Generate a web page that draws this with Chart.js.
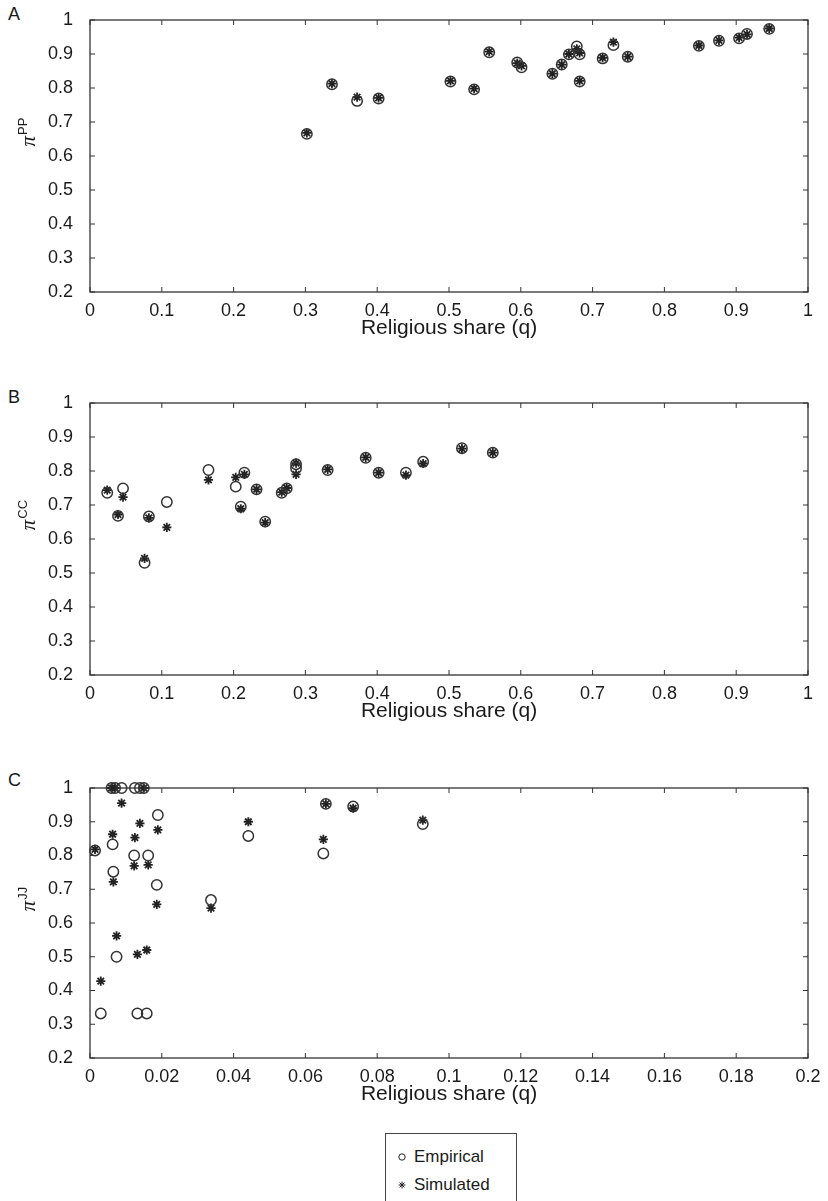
<!DOCTYPE html>
<html>
<head>
<meta charset="utf-8">
<script src="https://cdn.jsdelivr.net/npm/chart.js@4.4.1/dist/chart.umd.min.js"></script>
<style>
  body { margin: 0; background: #fff; font-family: "Liberation Sans", Arial, sans-serif; color: #1a1a1a; }
  #page { position: relative; width: 828px; height: 1201px; overflow: hidden; }
  canvas { position: absolute; left: 0; }
  .letter { position: absolute; left: 8px; font-size: 18px; }
  #legend { position: absolute; left: 385px; top: 1133px; width: 132px; height: 70px; border: 1.5px solid #444; box-sizing: border-box; }
  .item { position: absolute; left: 10px; height: 24px; font-size: 17px; line-height: 24px; }
  .item canvas { position: absolute; left: 0; top: 6px; }
  .item span { position: absolute; left: 18px; white-space: nowrap; }
</style>
</head>
<body>
<div id="page">
  <div class="letter" style="top:4px">A</div>
  <div class="letter" style="top:387px">B</div>
  <div class="letter" style="top:770px">C</div>
  <canvas id="chartA" width="828" height="345" style="top:0px"></canvas>
  <canvas id="chartB" width="828" height="345" style="top:383px"></canvas>
  <canvas id="chartC" width="828" height="343" style="top:768px"></canvas>
  <div id="legend">
    <div class="item" style="top:11px"><canvas id="mkEmp" width="12" height="12"></canvas><span>Empirical</span></div>
    <div class="item" style="top:39px"><canvas id="mkSim" width="12" height="12"></canvas><span>Simulated</span></div>
  </div>
</div>
<script>
// 軸の目盛り
const yTicks = [0.2, 0.3, 0.4, 0.5, 0.6, 0.7, 0.8, 0.9, 1];
const xTicksAB = [0, 0.1, 0.2, 0.3, 0.4, 0.5, 0.6, 0.7, 0.8, 0.9, 1];
const xTicksC = [0, 0.02, 0.04, 0.06, 0.08, 0.1, 0.12, 0.14, 0.16, 0.18, 0.2];
const xTitle = 'Religious share (q)';
const seriesNames = ['Empirical', 'Simulated'];

// パネルA (PP)
const qA   = [0.302, 0.337, 0.372, 0.402, 0.502, 0.535, 0.556, 0.595, 0.601, 0.644, 0.657, 0.667, 0.678, 0.682, 0.682, 0.714, 0.729, 0.749, 0.848, 0.876, 0.904, 0.915, 0.946];
const empA = [0.665, 0.811, 0.762, 0.769, 0.819, 0.796, 0.905, 0.875, 0.861, 0.842, 0.869, 0.899, 0.922, 0.899, 0.819, 0.887, 0.926, 0.892, 0.924, 0.939, 0.946, 0.959, 0.974];
const simA = [0.668, 0.813, 0.773, 0.771, 0.821, 0.798, 0.907, 0.873, 0.865, 0.842, 0.869, 0.900, 0.915, 0.903, 0.821, 0.889, 0.935, 0.892, 0.925, 0.940, 0.948, 0.958, 0.975];

// パネルB (CC)
const qB   = [0.024, 0.039, 0.046, 0.076, 0.082, 0.107, 0.165, 0.203, 0.210, 0.215, 0.232, 0.244, 0.267, 0.274, 0.287, 0.287, 0.331, 0.384, 0.402, 0.440, 0.464, 0.518, 0.561];
const empB = [0.736, 0.668, 0.749, 0.530, 0.666, 0.709, 0.803, 0.754, 0.695, 0.795, 0.746, 0.651, 0.736, 0.749, 0.820, 0.808, 0.803, 0.839, 0.795, 0.795, 0.827, 0.867, 0.854];
const simB = [0.744, 0.672, 0.723, 0.543, 0.662, 0.634, 0.774, 0.781, 0.689, 0.790, 0.746, 0.648, 0.738, 0.750, 0.823, 0.790, 0.805, 0.840, 0.795, 0.788, 0.822, 0.866, 0.854];

// パネルC (JJ)
const qC   = [0.0014, 0.0030, 0.0060, 0.0063, 0.0065, 0.0070, 0.0074, 0.0088, 0.0123, 0.0125, 0.0132, 0.0139, 0.0150, 0.0158, 0.0162, 0.0186, 0.0189, 0.0337, 0.0441, 0.0650, 0.0657, 0.0733, 0.0927];
const empC = [0.815, 0.332, 1.000, 0.833, 0.752, 1.000, 0.500, 1.000, 0.800, 1.000, 0.332, 1.000, 1.000, 0.332, 0.800, 0.713, 0.920, 0.668, 0.858, 0.806, 0.953, 0.945, 0.893];
const simC = [0.818, 0.428, 1.000, 0.863, 0.722, 1.000, 0.562, 0.955, 0.769, 0.853, 0.507, 0.895, 1.000, 0.520, 0.772, 0.655, 0.876, 0.644, 0.900, 0.848, 0.953, 0.940, 0.905];

const FONT = '"Liberation Sans", Arial, sans-serif';
const INK = '#1a1a1a';

// 枠線・内向き目盛り・縦軸ラベル(π^XX)を描くプラグイン
const framePlugin = {
  id: 'frame',
  beforeDatasetsDraw(chart) {
    const { ctx, chartArea: { left, right, top, bottom }, scales: { x, y } } = chart;
    ctx.save();
    ctx.strokeStyle = '#333';
    ctx.lineWidth = 1.3;
    ctx.strokeRect(left, top, right - left, bottom - top);
    ctx.lineWidth = 1;
    ctx.beginPath();
    x.ticks.forEach(t => {
      const px = x.getPixelForValue(t.value);
      ctx.moveTo(px, bottom); ctx.lineTo(px, bottom - 5);
      ctx.moveTo(px, top); ctx.lineTo(px, top + 5);
    });
    y.ticks.forEach(t => {
      const py = y.getPixelForValue(t.value);
      ctx.moveTo(left, py); ctx.lineTo(left + 5, py);
      ctx.moveTo(right, py); ctx.lineTo(right - 5, py);
    });
    ctx.stroke();

    // 縦軸ラベル
    const sup = chart.options.plugins.frame.sup;
    const cy = (top + bottom) / 2 - 24;
    ctx.translate(35, cy);
    ctx.rotate(-Math.PI / 2);
    ctx.fillStyle = INK;
    const piFont = 'italic 21px "Liberation Serif", serif';
    const supFont = '13px ' + FONT;
    ctx.font = piFont;
    const wPi = ctx.measureText('π').width;
    ctx.font = supFont;
    const wSup = ctx.measureText(sup).width;
    const x0 = -(wPi + wSup + 1) / 2;
    ctx.textBaseline = 'alphabetic';
    ctx.font = piFont;
    ctx.fillText('π', x0, 0);
    ctx.font = supFont;
    ctx.fillText(sup, x0 + wPi + 1, -8);
    ctx.restore();
  }
};

function fmt(v) {
  return String(+v.toFixed(2));
}

function makePanel(id, q, emp, sim, xTicks, sup) {
  const empPts = q.map((v, i) => ({ x: v, y: emp[i] }));
  const simPts = q.map((v, i) => ({ x: v, y: sim[i] }));
  new Chart(document.getElementById(id), {
    type: 'scatter',
    data: {
      datasets: [
        { label: seriesNames[0], data: empPts, pointStyle: 'circle', pointRadius: 5.2, pointBorderWidth: 1.5,
          borderColor: '#333', backgroundColor: 'rgba(0,0,0,0)', clip: false },
        { label: seriesNames[1], data: simPts, pointStyle: 'star', pointRadius: 4.6, pointBorderWidth: 1.8,
          borderColor: '#222', backgroundColor: '#222', clip: false }
      ]
    },
    options: {
      responsive: false,
      animation: false,
      devicePixelRatio: 1,
      layout: { padding: { top: 20, right: 20, left: 0, bottom: 0 } },
      plugins: {
        legend: { display: false },
        tooltip: { enabled: false },
        frame: { sup: sup }
      },
      scales: {
        x: {
          type: 'linear',
          min: xTicks[0],
          max: xTicks[xTicks.length - 1],
          afterBuildTicks: s => { s.ticks = xTicks.map(v => ({ value: v })); },
          afterFit: s => { s.height = 53; },
          grid: { display: false },
          border: { display: false },
          ticks: { font: { family: FONT, size: 18 }, color: INK, padding: 0, maxRotation: 0, autoSkip: false, callback: v => fmt(v) },
          title: { display: true, text: xTitle, font: { family: FONT, size: 21 }, color: INK, padding: { top: 0 } }
        },
        y: {
          type: 'linear',
          min: yTicks[0],
          max: yTicks[yTicks.length - 1],
          afterBuildTicks: s => { s.ticks = yTicks.map(v => ({ value: v })); },
          afterFit: s => { s.width = 90; },
          grid: { display: false },
          border: { display: false },
          ticks: { font: { family: FONT, size: 18 }, color: INK, padding: 9, callback: v => fmt(v) }
        }
      }
    },
    plugins: [framePlugin]
  });
}

makePanel('chartA', qA, empA, simA, xTicksAB, 'PP');
makePanel('chartB', qB, empB, simB, xTicksAB, 'CC');
makePanel('chartC', qC, empC, simC, xTicksC, 'JJ');

// 凡例のマーカー
function legendMarker(id, style, r, w, fill) {
  const c = document.getElementById(id).getContext('2d');
  c.strokeStyle = '#222';
  c.fillStyle = fill;
  Chart.helpers.drawPoint(c, { pointStyle: style, radius: r, borderWidth: w, rotation: 0 }, 6, 6);
}
legendMarker('mkEmp', 'circle', 3.2, 1.3, 'rgba(0,0,0,0)');
legendMarker('mkSim', 'star', 3.4, 1.6, '#222');
</script>
</body>
</html>
